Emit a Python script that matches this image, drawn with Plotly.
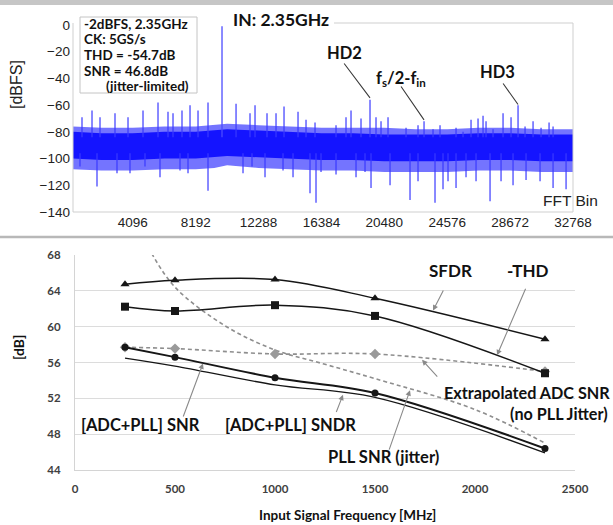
import plotly.graph_objects as go

W, H = 613, 525

# ---------------- top panel: FFT spectrum ----------------
fft_ticks = [4096, 8192, 12288, 16384, 20480, 24576, 28672, 32768]
dbfs_ticks = [0, -20, -40, -60, -80, -100, -120, -140]

fund_bin = 9906
fund_dbfs = -1.0

band_bins = [200, 2048, 4096, 6144, 8192, 9400, 10240, 12288, 14336, 16384,
             18432, 20480, 22528, 24576, 26624, 28672, 30720, 32768]
band_upper_outer = [-76, -77, -77, -76, -76, -75, -74, -75, -76, -77,
                    -77, -77, -78, -78, -77, -77, -78, -78]
band_upper_core = [-80, -81, -81, -80, -80, -79, -78, -79, -80, -81,
                   -81, -82, -82, -82, -81, -81, -82, -82]
band_lower_core = [-100, -101, -101, -100, -100, -99, -98, -99, -100, -101,
                   -101, -102, -102, -102, -101, -101, -102, -102]
band_lower_outer = [-108, -109, -109, -108, -108, -107, -105, -107, -108, -109,
                    -109, -110, -110, -110, -109, -109, -110, -110]

spur_bins = [786, 1438, 1959, 2936, 3783, 4760, 5737, 6388, 6714, 7300, 7822, 8343, 8994,
             10820, 11730, 12056, 12837, 13424, 13945, 14857, 15378, 15964,
             17332, 17983, 18309, 18960, 19546, 19937, 20263, 20719, 21892, 22673, 23065,
             23650, 24106, 25149, 25605, 26126, 26582, 26908, 27103, 27559, 28211, 28732,
             29188, 29644, 30166, 30687, 31208, 31469]
spur_dbfs = [-69, -64, -69, -66, -69, -64, -58, -65, -66, -64, -60, -64, -58,
             -59, -66, -60, -66, -66, -61, -65, -71, -73,
             -75, -69, -64, -70, -56, -69, -72, -69, -77, -75, -72,
             -78, -75, -77, -80, -71, -70, -68, -72, -78, -66, -69,
             -60, -76, -72, -77, -73, -76]

dip_bins = [656, 1763, 3066, 3913, 4890, 5867, 7170, 7691, 8994, 11274, 11860, 12707,
            13880, 14531, 15638, 16029, 16355, 17332, 18635, 19221, 19612, 20850,
            22152, 22673, 23780, 24301, 24627, 25149, 25800, 26452, 27364, 28081,
            28862, 29709, 30621, 31469, 32316]
dip_dbfs = [-106, -121, -111, -111, -106, -114, -109, -111, -124, -111, -106, -114,
            -109, -114, -126, -133, -110, -112, -114, -110, -122, -120,
            -131, -117, -133, -123, -117, -122, -114, -117, -132, -117,
            -120, -116, -117, -122, -123]

# ---------------- bottom panel ----------------
freq_mhz = [250, 500, 1000, 1500, 2350]
sfdr = [64.73, 65.18, 65.26, 63.17, 58.6]
neg_thd = [62.23, 61.75, 62.4, 61.2, 54.8]
adc_snr_extrap = [57.7, 57.55, 56.95, 56.95, 55.0]
adc_pll_snr = [57.7, 56.6, 54.3, 52.6, 46.4]
adc_pll_sndr = [56.5, 55.6, 53.5, 52.1, 45.9]
pll_freq_mhz = [383, 500, 750, 1000, 1250, 1500, 2000, 2350]
pll_snr = [68.2, 64.4, 60.1, 57.4, 55.8, 54.2, 50.75, 47.0]
freq_ticks = [0, 500, 1000, 1500, 2000, 2500]
db_ticks = [44, 48, 52, 56, 60, 64, 68]


def px(x):
    return x / W


def py(y):
    return 1 - y / H


BLUE = "#1414ff"
SPIKE = "#3a3aff"

fig = go.Figure()

# spectrum band
fig.add_trace(go.Scatter(x=band_bins, y=band_lower_outer, mode="lines",
                         line=dict(width=0, color=BLUE), xaxis="x", yaxis="y",
                         hoverinfo="skip", showlegend=False))
fig.add_trace(go.Scatter(x=band_bins, y=band_upper_outer, mode="lines", fill="tonexty",
                         fillcolor="rgba(30,30,255,0.62)",
                         line=dict(width=0, color=BLUE), xaxis="x", yaxis="y",
                         hoverinfo="skip", showlegend=False))
fig.add_trace(go.Scatter(x=band_bins, y=band_lower_core, mode="lines",
                         line=dict(width=0, color=BLUE), xaxis="x", yaxis="y",
                         hoverinfo="skip", showlegend=False))
fig.add_trace(go.Scatter(x=band_bins, y=band_upper_core, mode="lines", fill="tonexty",
                         fillcolor=BLUE,
                         line=dict(width=0, color=BLUE), xaxis="x", yaxis="y",
                         hoverinfo="skip", showlegend=False))

up_base = -84
dn_base = -96
sx, sy = [], []
for b, v in zip(spur_bins, spur_dbfs):
    sx += [b, b, None]
    sy += [up_base, v, None]
for b, v in zip(dip_bins, dip_dbfs):
    sx += [b, b, None]
    sy += [dn_base, v, None]
fig.add_trace(go.Scatter(x=sx, y=sy, mode="lines", line=dict(width=1.2, color=SPIKE),
                         xaxis="x", yaxis="y", hoverinfo="skip", showlegend=False))
fig.add_trace(go.Scatter(x=[fund_bin, fund_bin], y=[up_base, fund_dbfs], mode="lines",
                         line=dict(width=1.3, color="#4b4bff"),
                         xaxis="x", yaxis="y", hoverinfo="skip", showlegend=False))

# bottom panel lines
BLK = "#161616"
fig.add_trace(go.Scatter(x=pll_freq_mhz, y=pll_snr, mode="lines",
                         line=dict(color="#8e8e8e", width=1.6, dash="4px,3px", shape="spline"),
                         xaxis="x2", yaxis="y2", showlegend=False))
fig.add_trace(go.Scatter(x=freq_mhz, y=adc_snr_extrap, mode="lines+markers",
                         line=dict(color="#8e8e8e", width=1.6, dash="4px,3px", shape="spline"),
                         marker=dict(symbol="diamond", size=8, color="#9a9a9a"),
                         xaxis="x2", yaxis="y2", showlegend=False))
fig.add_trace(go.Scatter(x=freq_mhz, y=adc_pll_sndr, mode="lines",
                         line=dict(color=BLK, width=1.3, shape="spline"),
                         xaxis="x2", yaxis="y2", showlegend=False))
fig.add_trace(go.Scatter(x=freq_mhz, y=adc_pll_snr, mode="lines+markers",
                         line=dict(color=BLK, width=2, shape="spline"),
                         marker=dict(symbol="circle", size=7, color=BLK),
                         xaxis="x2", yaxis="y2", showlegend=False))
fig.add_trace(go.Scatter(x=freq_mhz, y=neg_thd, mode="lines+markers",
                         line=dict(color=BLK, width=1.5, shape="spline"),
                         marker=dict(symbol="square", size=8, color=BLK),
                         xaxis="x2", yaxis="y2", showlegend=False))
fig.add_trace(go.Scatter(x=freq_mhz, y=sfdr, mode="lines+markers",
                         line=dict(color=BLK, width=1.5, shape="spline"),
                         marker=dict(symbol="triangle-up", size=8, color=BLK),
                         xaxis="x2", yaxis="y2", showlegend=False))

TOPFONT = dict(family="Liberation Sans, Arial, sans-serif", size=13.5, color="#222222")
BFONT = dict(family="Lato, sans-serif", size=11.5, color="#404040", weight="bold")

fig.update_layout(
    width=W, height=H, autosize=False,
    margin=dict(l=0, r=0, t=0, b=0, pad=0, autoexpand=False),
    paper_bgcolor="white", plot_bgcolor="white",
    xaxis=dict(domain=[px(73), px(573)], range=[200, 32768], tickvals=fft_ticks,
               ticktext=[str(t) for t in fft_ticks], showgrid=False, zeroline=False,
               showline=False, ticks="", tickfont=TOPFONT, anchor="y", automargin=False),
    yaxis=dict(domain=[py(212), py(23)], range=[-140, 1.5], tickvals=dbfs_ticks,
               showgrid=False, zeroline=False, showline=False, ticks="",
               tickfont=TOPFONT, anchor="x", ticklabelstandoff=2, automargin=False),
    xaxis2=dict(domain=[px(75), px(575)], range=[0, 2500], tickvals=freq_ticks,
                showgrid=False, zeroline=False, showline=True, linecolor="#d4d4d4",
                linewidth=1, ticks="", tickfont=BFONT, anchor="y2", ticklabelstandoff=8,
                automargin=False),
    yaxis2=dict(domain=[py(470), py(255)], range=[44, 68], tickvals=db_ticks,
                showgrid=True, gridcolor="#dcdcdc", gridwidth=1, zeroline=False,
                showline=True, linecolor="#d4d4d4", ticks="", tickfont=BFONT,
                anchor="x2", ticklabelstandoff=11, automargin=False),
)

shapes = []
# page bars
shapes.append(dict(type="rect", xref="paper", yref="paper", x0=0, x1=1, y0=py(5), y1=1,
                   fillcolor="#c6c6c6", line=dict(width=0), layer="above"))
shapes.append(dict(type="line", xref="paper", yref="paper", x0=0, x1=1, y0=py(237), y1=py(237),
                   line=dict(color="#b8b8b8", width=2.5), layer="above"))
# top plot frame
fc = "#cfcfcf"
shapes.append(dict(type="line", xref="paper", yref="paper", x0=px(73), x1=px(73), y0=py(212), y1=py(23), line=dict(color=fc, width=1)))
shapes.append(dict(type="line", xref="paper", yref="paper", x0=px(573), x1=px(573), y0=py(212), y1=py(23), line=dict(color=fc, width=1)))
shapes.append(dict(type="line", xref="paper", yref="paper", x0=px(73), x1=px(573), y0=py(212), y1=py(212), line=dict(color=fc, width=1)))
shapes.append(dict(type="line", xref="paper", yref="paper", x0=px(334), x1=px(573), y0=py(23), y1=py(23), line=dict(color=fc, width=1)))
# info box
shapes.append(dict(type="rect", xref="paper", yref="paper", x0=px(80), x1=px(197), y0=py(93), y1=py(17),
                   fillcolor="white", line=dict(color="#c4c4c4", width=1), layer="above"))
fig.update_layout(shapes=shapes)

ann = []
LB = dict(family="Lato, sans-serif", color="#111111", weight="bold")


def txt(x, y, s, size, xanchor="center", font=None, angle=0):
    f = dict(font or LB)
    f["size"] = size
    ann.append(dict(xref="paper", yref="paper", x=px(x), y=py(y), text=s, showarrow=False,
                    xanchor=xanchor, yanchor="middle", font=f, textangle=angle))


# info box text
box_lines = ["-2dBFS, 2.35GHz", "CK: 5GS/s", "THD = -54.7dB", "SNR = 46.8dB"]
for i, s in enumerate(box_lines):
    txt(82, 24 + 15.5 * i, s, 13.5, xanchor="left")
txt(104, 86, "(jitter-limited)", 13.5, xanchor="left")

txt(281, 20, "IN: 2.35GHz", 17.5)
txt(344, 53, "HD2", 16.5)
txt(401, 79, "f<sub>s</sub>/2-f<sub>in</sub>", 16.5)
txt(497, 72, "HD3", 16.5)
AR = dict(family="Liberation Sans, Arial, sans-serif", color="#222222")
txt(570, 200, "FFT Bin", 15.5, font=AR)
txt(17, 85, "[dBFS]", 16, font=AR, angle=-90)

# top pointer lines (data coords)
for (hx, hy, tx, ty) in [(19546, -54.6, 17788, -27.7), (23065, -71.0, 21501, -44.9),
                         (29188, -59.5, 28146, -42.7)]:
    ann.append(dict(xref="x", yref="y", x=hx, y=hy, axref="x", ayref="y", ax=tx, ay=ty,
                    text="", showarrow=True, arrowhead=0, arrowwidth=1.1, arrowcolor="#3a3a3a",
                    standoff=0, startstandoff=0))

# bottom labels
txt(450, 270, "SFDR", 17)
txt(528, 270, "-THD", 17)
txt(612, 392, "Extrapolated ADC SNR", 16.2, xanchor="right")
txt(610, 413, "(no PLL Jitter)", 16.2, xanchor="right")
txt(140, 425, "[ADC+PLL] SNR", 16.5)
txt(290, 425, "[ADC+PLL] SNDR", 16.5)
txt(384, 457, "PLL SNR (jitter)", 16.5)
txt(18, 348, "[dB]", 14, angle=-90)
txt(347, 515, "Input Signal Frequency [MHz]", 13.5)

# bottom arrows (data coords)
for (hx, hy, tx, ty) in [(1790, 61.8, 1850, 64.4), (2110, 56.8, 2260, 64.6),
                         (1735, 56.3, 1825, 54.1), (640, 55.9, 535, 49.6),
                         (1340, 52.4, 1300, 50.1), (1675, 52.9, 1565, 45.9)]:
    ann.append(dict(xref="x2", yref="y2", x=hx, y=hy, axref="x2", ayref="y2", ax=tx, ay=ty,
                    text="", showarrow=True, arrowhead=2, arrowsize=1, arrowwidth=1.1,
                    arrowcolor="#8a8a8a", standoff=0, startstandoff=2))

fig.update_layout(annotations=ann)
fig.write_html("out.html", config={"displayModeBar": False},
               post_script="document.body.style.margin='0';document.body.style.overflow='hidden';")
